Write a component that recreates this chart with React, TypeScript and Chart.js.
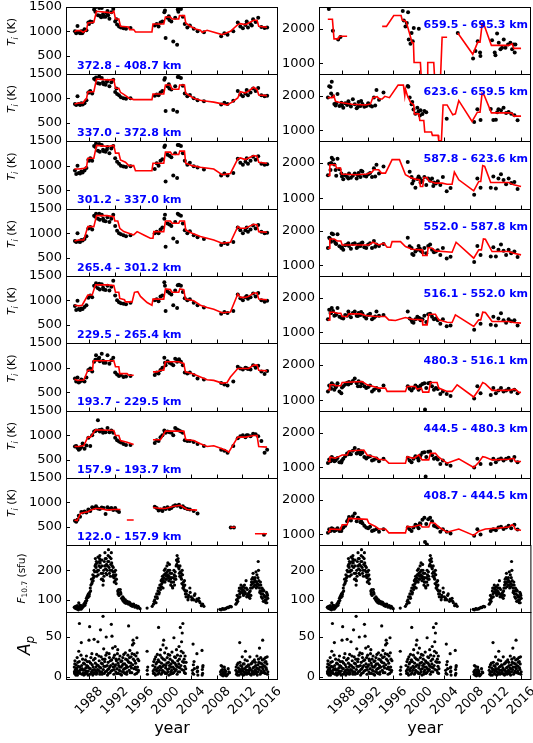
import React, { useEffect, useRef } from "react";
import { Chart, registerables } from "chart.js";
Chart.register(...registerables);

// ---------------- data ----------------
const TICK_YEARS = [1988, 1992, 1996, 2000, 2004, 2008, 2012, 2016];
const TI_LEFT_TICKS = [500, 1000, 1500];
const TI_RIGHT_TICKS = [1000, 2000];
const F107_TICKS = [100, 200];
const AP_TICKS = [0, 50];

const LEFT_LABELS = ["372.8 - 408.7 km", "337.0 - 372.8 km", "301.2 - 337.0 km", "265.4 - 301.2 km",
  "229.5 - 265.4 km", "193.7 - 229.5 km", "157.9 - 193.7 km", "122.0 - 157.9 km"];
const RIGHT_LABELS = ["659.5 - 695.3 km", "623.6 - 659.5 km", "587.8 - 623.6 km", "552.0 - 587.8 km",
  "516.1 - 552.0 km", "480.3 - 516.1 km", "444.5 - 480.3 km", "408.7 - 444.5 km"];

// observation epochs shared by the Ti panels
const EPOCHS = [1985.8, 1986.0, 1986.2, 1986.4, 1986.6, 1986.8, 1987.0, 1987.3, 1987.6, 1987.9,
  1988.2, 1988.5, 1988.8, 1989.1, 1989.4, 1989.7, 1990.0, 1990.3, 1990.6, 1990.9,
  1991.2, 1991.5, 1991.8, 1992.1, 1992.4, 1992.7, 1993.0, 1993.4, 1993.8, 1994.5,
  1998.3, 1998.6, 1998.9, 1999.2, 1999.5, 1999.8, 2000.0, 2000.3, 2000.6, 2000.9,
  2001.2, 2001.5, 2001.8, 2002.1, 2002.4, 2002.7, 2003.0, 2003.4, 2003.8, 2004.4,
  2005.0, 2006.0, 2008.7, 2009.2, 2009.7, 2010.6, 2011.3, 2011.7, 2012.1, 2012.5,
  2012.9, 2013.3, 2013.7, 2014.1, 2014.5, 2015.0, 2015.5, 2015.9];

// ---- left column (122 - 408.7 km) ----
const L0_DOTS = [1000, 960, 1110, 980, 960, 1000, 970, 1040, 1020, 1180,
  1200, 1190, 1450, 1500, 1330, 1320, 1480, 1300, 1300, 1420,
  1260, 1390, 1460, 1200, 1140, 1100, 1080, 1060, 1050, 1070,
  1120, 1150, 1100, 1180, 1200, 1390, 860, 1280, 1230, 1200,
  790, 1280, 720, 1470, 1460, 1300, 1150, 1080, 1120, 1050,
  1000, 980, 900, 960, 930, 1000, 1180, 1100, 1060, 1130,
  1080, 1150, 1250, 1190, 1280, 1090, 1070, 1080];
const L0_EXTRA = [1989.0, 1400, 1989.6, 1480, 1990.2, 1350, 1990.8, 1370, 1991.0, 1330, 1999.9, 1430, 2001.9, 1450,
  2002.0, 1400, 1992.3, 1250, 1988.0, 1150, 1986.9, 960, 2012.7, 1200, 2013.5, 1120, 1987.1, 1000, 1989.9, 1290, 2000.5, 1310];
const L0_FIT = [1985.73, 986, 1986.04, 1014, 1986.67, 1014, 1987.09, 980, 1987.61, 1020, 1987.82, 1171, 1988.76, 1185,
  1989.18, 1411, 1990.84, 1390, 1991.6, 1377, 1991.89, 1411, 1992.15, 1253, 1992.67, 1253, 1992.93, 1103, 1994.2, 1089,
  1994.36, 1034, 1995.0, 1034, 1995.28, 986, 1997.86, 986, 1998.02, 1151, 1999.71, 1151, 1999.97, 1295, 2000.75, 1295,
  2001.0, 1253, 2002.06, 1253, 2002.17, 1322, 2002.95, 1322, 2003.15, 1171, 2003.88, 1103, 2004.67, 1048, 2005.45, 1020,
  2005.71, 980, 2006.5, 1020, 2008.84, 931, 2010.15, 1000, 2011.3, 1137, 2011.71, 1157, 2012.49, 1137, 2013.0, 1171,
  2013.8, 1226, 2014.32, 1226, 2014.58, 1103, 2015.88, 1082];

const L1_DOTS = [880, 860, 1040, 880, 860, 900, 870, 900, 960, 1120,
  1150, 1100, 1400, 1430, 1310, 1300, 1420, 1290, 1280, 1360,
  1250, 1330, 1380, 1130, 1090, 1060, 1020, 1000, 990, 1000,
  1050, 1080, 1060, 1120, 1150, 1380, 740, 1250, 1200, 1180,
  760, 1250, 720, 1440, 1420, 1260, 1100, 1040, 1070, 1000,
  960, 940, 870, 910, 880, 950, 1150, 1080, 1040, 1100,
  1060, 1120, 1200, 1150, 1210, 1060, 1040, 1050];
const L1_EXTRA = [1989.0, 1380, 1989.6, 1450, 1990.2, 1330, 1990.8, 1340, 1999.9, 1420, 2001.9, 1440, 1992.3, 1200,
  1988.0, 1120, 2012.7, 1170, 1987.1, 890, 2000.5, 1290];
const L1_FIT = [1985.73, 884, 1986.41, 904, 1987.09, 904, 1987.3, 952, 1987.61, 990, 1987.82, 1130, 1988.76, 1137,
  1989.18, 1397, 1990.84, 1380, 1991.89, 1383, 1992.15, 1205, 1992.67, 1205, 1992.93, 1123, 1993.45, 1080, 1994.23, 1007,
  1995.0, 973, 1997.86, 973, 1998.02, 1089, 1999.71, 1089, 1999.97, 1274, 2000.75, 1274, 2001.0, 1185, 2002.06, 1185,
  2002.2, 1274, 2002.95, 1274, 2003.15, 1103, 2004.4, 1000, 2005.45, 960, 2006.5, 940, 2007.54, 920, 2008.84, 884,
  2009.63, 863, 2010.41, 920, 2011.3, 1007, 2011.71, 1137, 2012.49, 1110, 2013.0, 1150, 2013.8, 1226, 2014.32, 1180,
  2014.58, 1068, 2015.88, 1055];

const L2_DOTS = [900, 830, 1000, 850, 840, 880, 860, 900, 950, 1120,
  1150, 1100, 1400, 1450, 1300, 1280, 1420, 1290, 1280, 1380,
  1250, 1350, 1400, 1150, 1080, 1040, 1000, 980, 970, 990,
  930, 1050, 1000, 1100, 1130, 1380, 680, 1220, 1200, 1170,
  800, 1250, 750, 1420, 1400, 1250, 1100, 1020, 1060, 990,
  960, 920, 800, 840, 800, 850, 1140, 1060, 1020, 1080,
  1040, 1100, 1180, 1120, 1190, 1040, 1020, 1030];
const L2_EXTRA = [1989.0, 1380, 1989.6, 1440, 1990.2, 1320, 1990.8, 1330, 1999.9, 1410, 2001.9, 1420, 1988.0, 1100, 2012.7, 1150];
const L2_FIT = [1985.73, 931, 1986.41, 931, 1987.19, 945, 1987.61, 966, 1987.82, 1151, 1988.76, 1151, 1989.18, 1411,
  1990.84, 1390, 1991.89, 1411, 1992.15, 1253, 1992.67, 1253, 1992.93, 1116, 1993.71, 1068, 1994.23, 1000, 1995.0, 1000,
  1995.28, 897, 1997.86, 897, 1998.02, 1048, 1999.71, 1048, 1999.97, 1274, 2000.75, 1274, 2001.0, 1226, 2002.06, 1226,
  2002.22, 1295, 2002.95, 1295, 2003.15, 1048, 2004.15, 1000, 2005.45, 966, 2007.54, 931, 2008.84, 815, 2010.15, 842,
  2011.3, 1137, 2011.71, 1157, 2012.49, 1123, 2013.0, 1157, 2013.8, 1205, 2014.32, 1190, 2014.58, 1068, 2015.88, 1048];

const L3_DOTS = [840, 820, 1000, 830, 820, 860, 850, 880, 940, 1100,
  1130, 1080, 1360, 1400, 1300, 1280, 1380, 1260, 1250, 1330,
  1230, 1300, 1380, 1150, 1050, 1000, 980, 960, 940, 960,
  1000, 1030, 1000, 1080, 1120, 1300, 720, 1200, 1180, 1150,
  890, 1230, 820, 1380, 1360, 1200, 1060, 1000, 1040, 960,
  920, 880, 760, 800, 780, 820, 1120, 1060, 1000, 1060,
  1030, 1080, 1160, 1100, 1170, 1030, 1000, 1010];
const L3_EXTRA = [1989.0, 1340, 1989.6, 1400, 1990.2, 1300, 1999.9, 1380, 2001.9, 1400, 2012.7, 1120];
const L3_FIT = [1985.73, 842, 1986.41, 863, 1987.19, 863, 1987.82, 1137, 1988.76, 1137, 1989.18, 1363, 1990.84, 1363,
  1991.89, 1342, 1992.04, 1253, 1992.51, 1253, 1992.82, 1103, 1993.45, 1034, 1994.23, 1000, 1995.0, 966, 1995.54, 1034,
  1996.58, 966, 1997.6, 897, 1998.02, 897, 1998.15, 1034, 1999.71, 1034, 1999.97, 1253, 2000.75, 1253, 2001.0, 1205,
  2002.06, 1205, 2002.22, 1253, 2002.95, 1253, 2003.15, 1068, 2004.15, 1000, 2005.45, 932, 2006.5, 897, 2007.54, 863,
  2008.84, 794, 2010.15, 815, 2011.3, 1137, 2011.71, 1103, 2012.49, 1103, 2013.0, 1137, 2013.8, 1185, 2014.32, 1170,
  2014.58, 1034, 2015.88, 1020];

const L4_DOTS = [880, 800, 990, 820, 800, 830, 820, 860, 900, 1050,
  1100, 1060, 1300, 1350, 1250, 1220, 1330, 1220, 1210, 1300,
  1200, 1280, 1400, 1100, 1000, 960, 940, 930, 920, 950,
  1000, 1020, 980, 1080, 1100, 1370, 780, 1180, 1150, 1120,
  900, 1200, 840, 1320, 1300, 1170, 1040, 1000, 1020, 950,
  900, 850, 720, 760, 740, 780, 1120, 1040, 1000, 1060,
  1030, 1060, 1140, 1080, 1150, 1000, 970, 990];
const L4_EXTRA = [1989.0, 1290, 1989.6, 1340, 1990.2, 1260, 1999.9, 1300, 2001.9, 1310, 2012.7, 1090];
const L4_FIT = [1985.73, 898, 1986.41, 884, 1986.93, 898, 1987.82, 1108, 1988.5, 1108, 1989.02, 1318, 1990.84, 1318,
  1991.89, 1304, 1992.15, 1164, 1992.67, 1164, 1992.82, 1038, 1993.56, 1010, 1993.71, 968, 1994.75, 968, 1995.12, 1164,
  1995.64, 1178, 1996.06, 1080, 1997.1, 954, 1997.86, 898, 1998.02, 1024, 1999.71, 1024, 1999.97, 1234, 2000.75, 1220,
  2001.0, 1164, 2002.06, 1164, 2002.22, 1234, 2002.84, 1220, 2003.1, 1024, 2004.4, 989, 2005.45, 898, 2006.5, 849,
  2007.54, 814, 2008.84, 744, 2010.15, 758, 2011.3, 1129, 2011.71, 1059, 2012.49, 1059, 2013.0, 1080, 2013.8, 1150,
  2014.32, 1150, 2014.58, 1024, 2015.88, 1010];

const L5_DOTS = [780, 720, 800, 700, 720, 760, 740, 720, 800, 950,
  980, 920, 1120, 1250, 1170, 1130, 1280, 1100, 1100, 1250,
  1080, 1150, 1200, 900, 860, 830, 850, 810, 820, 830,
  850, 900, 880, 950, 1000, 1200, 1050, 1130, 1100, 1080,
  1050, 1180, 1120, 1170, 1120, 1050, 900, 880, 900, 850,
  780, 760, 690, 660, 640, 720, 1020, 980, 960, 1000,
  970, 960, 1050, 1000, 1040, 920, 870, 930];
const L5_EXTRA = [1989.0, 1160, 1989.6, 1200, 1990.2, 1140, 1999.9, 1100, 2001.9, 1150, 2012.7, 990];
const L5_FIT = [1985.73, 762, 1986.2, 741, 1987.19, 748, 1987.82, 948, 1988.55, 948, 1988.7, 1141, 1991.89, 1141,
  1992.15, 1017, 1992.67, 1017, 1992.82, 879, 1993.97, 879, 1994.23, 845, 1995.0, 845, 1996.5, null,
  1998.02, 914, 1998.66, 914, 1999.2, 948, 1999.71, 948, 1999.97, 1120, 2002.06, 1120, 2002.84, 1086, 2003.1, 914,
  2004.15, 879, 2005.45, 810, 2006.5, 755, 2007.54, 741, 2008.84, 686, 2009.63, 700, 2010.15, 810, 2011.3, 983,
  2013.0, 983, 2013.8, 1052, 2014.32, 1052, 2014.58, 948, 2015.88, 934];

const L6_DOTS = [770, 780, 740, 700, 720, 760, 830, 720, 790, 950,
  780, 1000, 1080, 1100, 1310, 1080, 1120, 1080, 1060, 1150,
  1060, 1100, 1050, 950, 900, 870, 850, 820, 800, 800,
  840, 900, 880, 960, 1000, 1100, 1050, 1080, 1060, 1050,
  1000, 1150, 1120, 1100, 1080, 1050, 900, 880, 880, 860,
  820, 780, 700, 680, 640, 780, 940, 980, 1000, 960,
  1000, 980, 1030, 1020, 980, 880, 640, 700];
const L6_EXTRA = [1989.0, 1090, 1989.6, 1110, 1990.2, 1050, 1999.9, 1060, 2012.7, 1000];
const L6_FIT = [1985.73, 769, 1986.41, 769, 1987.19, 789, 1987.82, 962, 1988.24, 962, 1989.02, 1114, 1991.89, 1100,
  1992.15, 996, 1992.67, 996, 1992.93, 893, 1993.97, 858, 1995.0, 810, 1996.5, null,
  1998.02, 907, 1999.19, 907, 1999.97, 1086, 2002.84, 1086, 2003.15, 914, 2004.4, 893, 2005.45, 824, 2006.5, 769,
  2007.54, 783, 2008.84, 720, 2009.5, 686, 2009.89, 651, 2011.3, 962, 2012.49, 962, 2013.0, 976, 2013.8, 996,
  2014.32, 996, 2014.58, 769, 2015.88, 755];

const L7_DOTS = [620, 600, 640, 720, 700, 800, 790, 810, 790, 850,
  820, 900, 880, 920, 870, 860, 890, 880, 760, 900,
  860, 880, 840, 880, 830, 800, null, null, null, null,
  910, 880, 830, 850, 820, 880, 860, 900, 860, 880,
  920, 940, 930, 950, 900, 920, 880, 860, 850, 820,
  770, null, null, null, null, null, null, null, null, null,
  null, null, null, null, null, null, null, null];
const L7_EXTRA = [2010.2, 480, 2010.7, 480, 2015.4, 330];
const L7_FIT = [1985.73, 635, 1986.15, 622, 1986.67, 770, 1987.19, 790, 1987.82, 804, 1988.24, 838, 1989.02, 871,
  1989.8, 871, 1990.84, 838, 1991.89, 851, 1992.93, 851, 1993.4, null, 1993.93, 635, 1995.0, 635, 1996.5, null,
  1998.02, 892, 1999.19, 871, 1999.97, 871, 2001.28, 919, 2002.32, 939, 2003.36, 851, 2004.93, 838, 2007.0, null,
  2010.15, 486, 2010.93, 486, 2012.0, null, 2013.99, 351, 2015.88, 351];

// ---- right column (408.7 - 695.3 km) ----
const R0_DOTS = null;
const R0_EXTRA = [1985.94, 2566, 1986.57, 1943, 1987.4, 1689, 1987.77, 1764, 1997.52, 2509, 1998.35, 2471, 1997.68, 2236,
  1997.94, 2066, 1998.15, 2160, 1998.46, 1689, 1998.9, 1877, 1999.08, 1642, 1998.72, 1566, 1999.24, 2019, 2000.03, 2000,
  2006.13, 1877, 2008.53, 1142, 2008.9, 1359, 2009.26, 1642, 2009.62, 1312, 2009.68, 1217, 2010.04, 2113, 2011.5, 1670,
  2011.92, 1312, 2012.03, 1236, 2012.29, 1858, 2012.55, 1594, 2012.81, 1406, 2013.07, 1453, 2013.33, 1689, 2013.6, 1453,
  2014.0, 1547, 2014.37, 1594, 2014.64, 1406, 2014.9, 1547, 2015.05, 1312, 2015.16, 1547];
const R0_FIT = [1985.78, 2273, 1986.5, 2273, 1986.75, 1708, 1987.4, 1708, 1987.6, 1783, 1988.8, 1783, 1991.0, null,
  1994.29, 2066, 1994.96, 2066, 1996.11, 2377, 1997.26, 2377, 1997.42, 2255, 1998.04, 2207, 1998.56, 1877, 1998.98, 1594,
  1999.19, 1594, 1999.29, 1028, 2000.28, 1028, 2000.44, 500, 2001.33, 500, 2001.43, 1028, 2002.37, 1028, 2002.53, 500,
  2003.41, 500, 2003.68, 1755, 2004.46, 1755, 2005.3, null, 2006.13, 1877, 2008.48, 1264, 2009.26, 1613, 2009.62, 1613,
  2009.94, 2132, 2010.3, 2085, 2011.4, 1519, 2014.11, 1519, 2014.64, 1566, 2014.9, 1434, 2016.04, 1434];

const R1_DOTS = [1950, 2270, 2250, 2400, 1980, 1760, 1720, 2050, 1700, 1800,
  1650, 1780, 1730, 1760, 1690, 1900, 1750, 1640, 1820, 1700,
  1760, 1680, 1700, 1780, 1720, 1690, 1950, 2160, 1880, 2090,
  2280, 1950, 1750, 1600, 1480, 1650, 1550, 1580, 1470, 1560,
  1520, null, null, null, null, null, null, null, null, 1340,
  null, null, 1240, 1610, 1300, null, 1620, 1300, 1310, 1610,
  1580, 1650, 1500, 1530, 1480, 1440, 1290, null];
const R1_EXTRA = [1986.3, 2060, 1987.1, 1780, 1988.0, 1720, 1989.0, 1840, 1990.5, 1680, 1991.0, 1850, 1993.2, 1720,
  1998.4, 2260, 1999.0, 1820, 2000.2, 1430, 2012.3, 1520];
const R1_FIT = [1985.78, 1943, 1986.46, 1943, 1986.72, 2000, 1986.98, 1838, 1987.5, 1810, 1989.6, 1753, 1991.68, 1734,
  1992.46, 1763, 1992.83, 1943, 1993.5, 1972, 1993.87, 1905, 1994.29, 1905, 1994.7, 1981, 1995.43, 1943, 1996.79, 2304,
  1997.62, 2304, 1997.83, 2000, 1997.94, 2190, 1998.25, 2000, 1998.72, 1810, 1999.24, 1734, 1999.35, 1477, 2000.03, 1477,
  2000.19, 1287, 2000.81, 1287, 2000.96, 955, 2002.01, 955, 2002.16, 860, 2003.05, 860, 2003.15, 700, 2003.57, 700,
  2003.83, 1734, 2004.46, 1734, 2005.35, 1449, 2005.76, 1477, 2006.29, 1857, 2008.37, 1259, 2009.2, 1525, 2009.62, 1525,
  2009.94, 2066, 2010.25, 2019, 2011.4, 1506, 2014.11, 1506, 2014.64, 1496, 2014.9, 1411, 2016.04, 1411];

const R2_DOTS = [1650, 1980, 1800, 2150, 2100, 1960, 1800, 2120, 1820, 1700,
  1540, 1650, 1600, 1700, 1580, 1640, 1700, 1560, 1720, 1600,
  1760, 1640, 1620, 1680, 1720, 1600, 1850, 1950, 1700, 1900,
  2030, 1750, 1600, 1500, 1300, 1550, 1620, 1450, 1500, 1600,
  1380, 1560, 1500, 1560, 1450, 1420, 1480, 1380, 1600, 1200,
  1290, null, 1100, 1560, 1300, null, 1300, 1620, 1280, 1560,
  1680, 1520, 1400, 1560, 1430, 1460, 1260, null];
const R2_EXTRA = [1986.3, 2000, 1987.1, 1640, 1988.0, 1620, 1989.0, 1560, 1990.5, 1650, 1991.0, 1780, 1993.2, 1620,
  1999.0, 1420, 2000.2, 1560, 2002.3, 1350];
const R2_FIT = [1985.78, 1648, 1985.99, 1648, 1986.1, 1952, 1986.98, 1952, 1987.14, 1857, 1987.77, 1857, 1987.92, 1686,
  1990.1, 1667, 1991.94, 1686, 1992.72, 1743, 1992.98, 1810, 1993.76, 1810, 1994.18, 1714, 1994.81, 1714, 1995.85, 2095,
  1997.0, 2095, 1997.94, 1667, 1998.72, 1591, 1999.5, 1543, 2000.13, 1524, 2000.28, 1333, 2000.65, 1333, 2000.81, 1591,
  2001.33, 1591, 2001.59, 1495, 2002.63, 1429, 2003.68, 1429, 2004.46, 1400, 2005.24, 1400, 2005.6, 1743, 2006.29, 1524,
  2008.63, 1210, 2009.42, 1476, 2009.73, 1476, 2010.04, 1924, 2010.35, 1905, 2011.29, 1448, 2014.11, 1448, 2014.9, 1381,
  2016.04, 1333];

const R3_DOTS = [1500, 1800, 1750, 1920, 1900, 1700, 1640, 1900, 1550, 1500,
  1450, 1580, 1600, 1560, 1480, 1620, 1640, 1500, 1600, 1560,
  1660, 1520, 1500, 1600, 1640, 1500, 1700, 1600, 1560, 1620,
  1800, 1550, 1500, 1300, 1400, 1450, 1560, 1420, 1380, 1500,
  1350, 1560, 1600, 1450, 1380, 1400, 1440, 1300, 1500, 1200,
  1250, null, 1100, 1560, 1300, null, 1260, 1520, 1260, 1450,
  1600, 1420, 1300, 1450, 1350, 1400, 1240, null];
const R3_EXTRA = [1986.3, 1680, 1987.1, 1620, 1988.0, 1520, 1989.0, 1640, 1990.5, 1540, 1991.0, 1640, 1993.2, 1540,
  1999.0, 1330, 2000.2, 1480];
const R3_FIT = [1985.78, 1495, 1985.99, 1495, 1986.1, 1762, 1986.77, 1762, 1987.24, 1705, 1987.82, 1705, 1988.03, 1590,
  1992.2, 1590, 1992.83, 1667, 1993.76, 1590, 1994.55, 1638, 1995.07, 1524, 1995.59, 1524, 1995.85, 1686, 1997.16, 1686,
  1997.94, 1543, 1998.98, 1467, 2000.55, 1448, 2000.65, 1286, 2001.33, 1286, 2001.49, 1514, 2002.11, 1495, 2002.63, 1419,
  2005.24, 1381, 2005.87, 1667, 2008.63, 1210, 2009.42, 1448, 2009.83, 1448, 2010.15, 1762, 2010.46, 1752, 2011.5, 1400,
  2014.11, 1400, 2014.9, 1352, 2016.04, 1305];

const R4_DOTS = [1380, 1650, 1560, 1700, 1620, 1480, 1500, 1700, 1450, 1420,
  1400, 1500, 1480, 1520, 1440, 1560, 1600, 1480, 1560, 1500,
  1540, 1460, 1400, 1500, 1540, 1380, 1420, 1600, 1480, 1500,
  1600, 1400, 1350, 1280, 1380, 1450, 1420, 1350, 1380, 1480,
  1300, 1520, 1540, 1450, 1380, 1400, 1350, 1250, 1380, 1180,
  1200, null, 1080, 1500, 1250, null, 1220, 1450, 1200, 1400,
  1550, 1350, 1280, 1380, 1320, 1350, 1200, null];
const R4_EXTRA = [1986.3, 1560, 1987.1, 1520, 1988.0, 1430, 1989.0, 1600, 1990.5, 1470, 1991.0, 1590, 1993.2, 1460,
  1999.0, 1300, 2000.2, 1400];
const R4_FIT = [1985.78, 1362, 1985.99, 1362, 1986.1, 1581, 1986.77, 1581, 1987.24, 1552, 1987.82, 1552, 1988.03, 1457,
  1988.81, 1457, 1989.07, 1533, 1990.9, 1533, 1991.68, 1486, 1993.24, 1457, 1994.81, 1457, 1995.33, 1362, 1996.37, 1343,
  1997.94, 1429, 1998.98, 1381, 2000.55, 1362, 2000.65, 1219, 2001.33, 1219, 2001.59, 1524, 2002.63, 1524, 2003.15, 1362,
  2004.46, 1295, 2005.24, 1286, 2005.76, 1505, 2008.63, 1172, 2009.42, 1362, 2009.73, 1362, 2010.04, 1581, 2010.46, 1572,
  2011.5, 1314, 2014.11, 1314, 2014.9, 1286, 2016.04, 1267];

const R5_DOTS = [1250, 1420, 1350, 1480, 1440, 1300, 1360, 1480, 1250, 1200,
  1400, 1450, 1500, 1520, 1480, 1550, 1620, 1480, 1540, 1400,
  1480, 1400, 1350, 1380, 1420, 1250, 1300, 1350, 1280, 1420,
  1400, 1330, 1280, 1350, 1420, 1380, 1300, 1420, 1460, 1480,
  1350, 1480, 1500, 1400, 1300, 1350, 1320, 1180, 1250, 1180,
  1120, null, 1050, 1400, 1200, null, 1150, 1350, 1200, 1280,
  1350, 1250, 1280, 1330, 1240, 1300, 1200, null];
const R5_EXTRA = [2001.0, 738, 1986.3, 1330, 1987.1, 1400, 1988.0, 1360, 1989.0, 1450, 1990.5, 1400, 1991.0, 1500, 2000.2, 1350];
const R5_FIT = [1985.78, 1299, 1985.99, 1299, 1986.1, 1439, 1986.77, 1439, 1986.98, 1411, 1987.82, 1411, 1988.03, 1505,
  1991.16, 1533, 1991.94, 1439, 1993.76, 1346, 1994.81, 1346, 1995.07, 1252, 1997.94, 1252, 1998.2, 1392, 1999.5, 1392,
  1999.76, 1317, 2000.44, 1346, 2000.65, 1233, 2001.59, 1233, 2001.85, 1505, 2002.89, 1505, 2003.15, 1346, 2004.46, 1252,
  2005.24, 1252, 2006.03, 1439, 2008.63, 1093, 2009.42, 1299, 2010.04, 1505, 2010.46, 1467, 2011.5, 1280, 2014.11, 1280,
  2014.9, 1317, 2015.26, 1299, 2015.68, 1224, 2016.04, 1224];

const R6_DOTS = [1130, 1230, 1180, 1300, 1260, 1180, 1200, 1270, 1150, 1140,
  1250, 1320, 1400, 1440, 1380, 1480, 1560, 1400, 1500, 1380,
  1420, 1300, 1260, 1300, 1320, 1200, 1220, 1260, 1180, 1250,
  1280, 1200, 1150, 1250, 1320, 1280, 1200, 1350, 1420, 1440,
  1300, 1450, 1460, 1350, 1250, 1280, 1230, 1100, 1200, 1100,
  1050, null, 1000, 1250, 1100, null, 1100, 1250, 1150, 1230,
  1260, 1200, 1250, 1280, 1200, 1300, 1150, null];
const R6_EXTRA = [2001.1, 740, 1986.3, 1200, 1987.1, 1240, 1988.0, 1200, 1989.0, 1380, 1990.5, 1430, 1991.0, 1460, 2000.2, 1300];
const R6_FIT = [1985.78, 1170, 1985.99, 1170, 1986.1, 1293, 1986.98, 1264, 1987.5, 1312, 1988.03, 1359, 1988.81, 1359,
  1989.07, 1472, 1991.42, 1500, 1991.94, 1359, 1993.24, 1293, 1993.76, 1236, 1994.81, 1217, 1995.33, 1123, 1997.94, 1123,
  1998.2, 1312, 1999.24, 1264, 2000.03, 1359, 2000.55, 1217, 2001.59, 1217, 2001.85, 1406, 2002.63, 1406, 2003.15, 1293,
  2004.46, 1123, 2006.29, 1246, 2008.63, 1000, 2009.42, 1151, 2010.04, 1312, 2010.46, 1293, 2011.5, 1217, 2014.11, 1236,
  2014.9, 1264, 2015.16, 1170, 2016.04, 1170];

const R7_DOTS = [1050, 1150, 1100, 1180, 1160, 1100, 1120, 1180, 1100, 1100,
  1200, 1250, 1380, 1500, 1400, 1520, 1600, 1380, 1460, 1350,
  1320, 1250, 1200, 1180, 1220, 1100, 1120, 1160, 1080, 1150,
  1200, 1150, 1100, 1200, 1280, 1240, 1180, 1300, 1420, 1480,
  1300, 1440, 1480, 1380, 1250, 1230, 1200, 1080, 1150, 1080,
  1030, null, 960, 1150, 1000, null, 1100, 1150, 1120, 1200,
  1220, 1160, 1200, 1250, 1180, 1280, 1140, null];
const R7_EXTRA = [2001.0, 780, 2001.3, 710, 1986.3, 1120, 1987.1, 1140, 1988.0, 1180, 1989.0, 1430, 1990.5, 1480,
  1991.0, 1380, 2000.2, 1320];
const R7_FIT = [1985.78, 1065, 1985.99, 1083, 1986.1, 1157, 1987.77, 1139, 1988.03, 1278, 1988.81, 1278, 1989.07, 1463,
  1991.94, 1435, 1992.2, 1324, 1993.24, 1231, 1993.76, 1157, 1994.81, 1157, 1995.33, 1046, 1997.94, 1046, 1998.2, 1231,
  1998.98, 1213, 2000.28, 1278, 2000.55, 1213, 2001.59, 1213, 2001.85, 1342, 2002.53, 1324, 2003.15, 1213, 2004.46, 1065,
  2006.29, 1157, 2008.63, 972, 2009.42, 1093, 2010.46, 1157, 2012.55, 1185, 2014.11, 1213, 2014.64, 1278, 2014.9, 1250,
  2015.16, 1139, 2016.04, 1120];

// ---- solar / geomagnetic indices (year, value pairs) ----
const F107_DATA = [1985.7, 75, 1985.8, 72, 1985.9, 78, 1986.0, 70, 1986.1, 74, 1986.2, 68, 1986.3, 72, 1986.4, 90,
  1986.5, 76, 1986.6, 70, 1986.7, 73, 1986.8, 80, 1986.9, 72, 1987.0, 75, 1987.1, 78, 1987.2, 85, 1987.3, 88, 1987.4, 82,
  1987.5, 90, 1987.6, 105, 1987.7, 110, 1987.8, 115, 1987.9, 120, 1988.0, 112, 1988.1, 125, 1988.2, 140, 1988.3, 150,
  1988.4, 170, 1988.5, 160, 1988.6, 185, 1988.7, 175, 1988.8, 200, 1988.9, 195, 1989.0, 240, 1989.05, 220, 1989.1, 210,
  1989.2, 180, 1989.3, 225, 1989.35, 200, 1989.4, 245, 1989.5, 200, 1989.55, 215, 1989.6, 230, 1989.7, 250, 1989.75, 225,
  1989.8, 210, 1989.9, 190, 1990.0, 215, 1990.05, 235, 1990.1, 170, 1990.2, 150, 1990.3, 200, 1990.35, 180, 1990.4, 230,
  1990.5, 260, 1990.55, 240, 1990.6, 205, 1990.7, 240, 1990.75, 220, 1990.8, 185, 1990.9, 215, 1991.0, 250, 1991.05, 270,
  1991.1, 230, 1991.2, 190, 1991.3, 200, 1991.4, 220, 1991.5, 260, 1991.6, 200, 1991.7, 180, 1991.8, 210, 1991.9, 175,
  1992.0, 195, 1992.1, 165, 1992.2, 185, 1992.3, 170, 1992.5, 130, 1992.6, 125, 1992.7, 115, 1992.9, 135, 1993.0, 120,
  1993.1, 105, 1993.3, 110, 1993.4, 95, 1993.6, 90, 1993.7, 100, 1993.8, 88, 1994.0, 95, 1994.2, 85, 1994.4, 90,
  1994.6, 80, 1994.8, 78, 1995.0, 85, 1995.2, 75, 1995.4, 80, 1995.6, 72, 1995.8, 74, 1996.0, 70,
  1997.1, 72, 1997.9, 78, 1998.1, 85, 1998.2, 95, 1998.3, 100, 1998.4, 110, 1998.5, 90, 1998.6, 120, 1998.7, 105,
  1998.8, 130, 1998.9, 140, 1999.0, 125, 1999.1, 150, 1999.2, 135, 1999.3, 165, 1999.4, 155, 1999.5, 180, 1999.6, 140,
  1999.7, 175, 1999.8, 200, 1999.85, 185, 1999.9, 160, 2000.0, 190, 2000.05, 170, 2000.1, 170, 2000.2, 215, 2000.25, 195,
  2000.3, 185, 2000.4, 200, 2000.5, 165, 2000.55, 180, 2000.6, 220, 2000.7, 190, 2000.8, 150, 2000.9, 175, 2001.0, 160,
  2001.1, 140, 2001.2, 175, 2001.3, 200, 2001.4, 150, 2001.5, 195, 2001.6, 170, 2001.7, 235, 2001.75, 220, 2001.8, 250,
  2001.85, 230, 2001.9, 215, 2002.0, 230, 2002.05, 210, 2002.1, 205, 2002.2, 180, 2002.3, 195, 2002.4, 175, 2002.5, 170,
  2002.6, 200, 2002.7, 140, 2002.8, 160, 2002.9, 135, 2003.0, 150, 2003.1, 120, 2003.2, 110, 2003.3, 130, 2003.5, 100,
  2003.6, 115, 2003.8, 140, 2004.0, 110, 2004.2, 105, 2004.4, 100, 2004.6, 120, 2004.8, 95, 2005.0, 100, 2005.2, 105,
  2005.4, 90, 2005.6, 80, 2005.8, 85, 2006.0, 78,
  2008.5, 68, 2008.7, 66, 2008.9, 70, 2009.1, 68, 2009.3, 69, 2009.5, 72, 2009.7, 74, 2009.9, 75, 2010.1, 78, 2010.3, 76,
  2011.0, 85, 2011.1, 100, 2011.2, 115, 2011.3, 95, 2011.4, 110, 2011.5, 130, 2011.6, 120, 2011.7, 140, 2011.8, 150,
  2011.9, 135, 2012.0, 125, 2012.1, 145, 2012.2, 115, 2012.3, 130, 2012.4, 140, 2012.5, 120, 2012.6, 165, 2012.7, 110,
  2012.8, 135, 2012.9, 120, 2013.0, 110, 2013.1, 125, 2013.2, 105, 2013.3, 140, 2013.4, 150, 2013.5, 170, 2013.6, 155,
  2013.7, 190, 2013.8, 145, 2013.9, 160, 2014.0, 175, 2014.1, 150, 2014.2, 140, 2014.3, 185, 2014.4, 155, 2014.5, 230,
  2014.55, 200, 2014.6, 165, 2014.7, 140, 2014.8, 130, 2014.9, 150, 2015.0, 110, 2015.1, 140, 2015.2, 120, 2015.3, 95,
  2015.4, 130, 2015.5, 110, 2015.6, 100, 2015.7, 90, 2015.8, 125, 2015.9, 120, 2016.0, 105];
const F107_MORE = [1986.15, 80, 1986.35, 66, 1986.55, 82, 1986.75, 68, 1986.95, 77, 1987.25, 80, 1987.45, 95, 1987.65, 98,
  1987.85, 108, 1988.05, 118, 1988.25, 130, 1988.45, 155, 1988.65, 165, 1988.85, 180, 1988.95, 215, 1989.15, 230,
  1989.25, 195, 1989.45, 185, 1989.65, 240, 1989.85, 235, 1989.95, 170, 1990.15, 190, 1990.25, 165, 1990.45, 215,
  1990.65, 190, 1990.85, 200, 1990.95, 230, 1991.15, 210, 1991.25, 245, 1991.35, 180, 1991.45, 240, 1991.55, 225,
  1991.65, 215, 1991.75, 195, 1991.85, 185, 1991.95, 160, 1992.05, 180, 1992.15, 200, 1992.25, 155, 1992.55, 120,
  1992.65, 135, 1992.95, 125, 1993.25, 100, 1993.45, 105, 1993.75, 92, 1994.1, 88, 1994.3, 92, 1994.5, 82, 1994.7, 85,
  1995.1, 80, 1995.5, 76, 1995.7, 78,
  1998.35, 92, 1998.65, 110, 1998.95, 120, 1999.15, 140, 1999.35, 145, 1999.45, 170, 1999.55, 160, 1999.65, 165,
  1999.75, 185, 1999.95, 205, 2000.15, 180, 2000.35, 225, 2000.45, 175, 2000.65, 200, 2000.75, 170, 2000.85, 160,
  2000.95, 190, 2001.05, 145, 2001.25, 160, 2001.35, 185, 2001.45, 170, 2001.55, 180, 2001.65, 215, 2001.95, 240,
  2002.15, 190, 2002.25, 215, 2002.35, 180, 2002.45, 190, 2002.55, 155, 2002.65, 185, 2002.75, 150, 2002.85, 145,
  2002.95, 165, 2003.05, 130, 2003.25, 120, 2003.55, 108, 2003.85, 125, 2004.1, 100, 2004.5, 115, 2004.9, 102,
  2005.3, 95, 2005.7, 84,
  2008.6, 67, 2009.0, 69, 2009.4, 70, 2009.8, 73, 2010.2, 77,
  2011.15, 90, 2011.35, 105, 2011.55, 140, 2011.65, 110, 2011.75, 125, 2011.85, 140, 2012.05, 135, 2012.15, 120,
  2012.35, 150, 2012.45, 125, 2012.65, 140, 2012.85, 115, 2013.05, 118, 2013.25, 130, 2013.35, 115, 2013.45, 160,
  2013.55, 140, 2013.65, 175, 2013.75, 160, 2013.85, 170, 2013.95, 150, 2014.05, 165, 2014.15, 195, 2014.25, 160,
  2014.35, 145, 2014.45, 175, 2014.65, 150, 2014.75, 125, 2014.85, 160, 2014.95, 120, 2015.05, 130, 2015.15, 105,
  2015.25, 135, 2015.45, 115, 2015.55, 95, 2015.65, 110, 2015.75, 100, 2015.85, 90, 2015.95, 115];

const AP_DATA = [1985.7, 12, 1985.75, 4, 1985.8, 20, 1985.85, 8, 1985.9, 3, 1986.0, 15, 1986.05, 6, 1986.1, 10,
  1986.2, 2, 1986.25, 18, 1986.3, 7, 1986.4, 32, 1986.45, 5, 1986.5, 67, 1986.55, 12, 1986.6, 4, 1986.7, 9, 1986.8, 43,
  1986.85, 14, 1986.9, 3, 1987.0, 22, 1987.1, 8, 1987.2, 2, 1987.3, 16, 1987.4, 5, 1987.5, 11, 1987.6, 26, 1987.7, 4,
  1987.8, 13, 1987.9, 7, 1988.0, 46, 1988.05, 19, 1988.1, 63, 1988.15, 3, 1988.2, 10, 1988.3, 24, 1988.4, 6, 1988.5, 15,
  1988.6, 2, 1988.7, 21, 1988.8, 47, 1988.85, 9, 1988.9, 4, 1989.0, 17, 1989.1, 12, 1989.2, 28, 1989.3, 5, 1989.4, 44,
  1989.45, 14, 1989.5, 8, 1989.6, 20, 1989.7, 3, 1989.8, 59, 1989.85, 11, 1989.9, 25, 1990.0, 6, 1990.1, 16, 1990.2, 76,
  1990.25, 9, 1990.3, 35, 1990.4, 4, 1990.5, 22, 1990.6, 13, 1990.7, 50, 1990.75, 7, 1990.8, 30, 1990.9, 2, 1991.0, 18,
  1991.1, 10, 1991.2, 24, 1991.3, 5, 1991.4, 14, 1991.5, 66, 1991.55, 21, 1991.6, 51, 1991.65, 8, 1991.7, 36, 1991.8, 12,
  1991.9, 3, 1992.0, 27, 1992.1, 38, 1992.15, 15, 1992.2, 6, 1992.3, 20, 1992.4, 10, 1992.5, 34, 1992.55, 17, 1992.6, 4,
  1992.7, 22, 1992.8, 12, 1992.9, 7, 1993.0, 19, 1993.1, 2, 1993.2, 14, 1993.3, 24, 1993.4, 9, 1993.5, 5, 1993.6, 16,
  1993.7, 30, 1993.8, 11, 1993.9, 3, 1994.0, 21, 1994.1, 27, 1994.2, 64, 1994.25, 18, 1994.3, 8, 1994.4, 33, 1994.5, 13,
  1994.6, 25, 1994.7, 5, 1994.8, 40, 1994.9, 46, 1994.95, 22, 1995.0, 42, 1995.05, 10, 1995.1, 28, 1995.2, 3, 1995.3, 17,
  1995.4, 9, 1995.5, 49, 1995.55, 30, 1995.6, 12, 1995.7, 6, 1995.8, 20,
  1997.1, 32, 1997.12, 8, 1997.15, 3, 1997.2, 12,
  1998.0, 14, 1998.1, 4, 1998.2, 9, 1998.3, 22, 1998.4, 2, 1998.5, 16, 1998.6, 7, 1998.7, 28, 1998.8, 11, 1998.9, 62,
  1998.95, 5, 1999.0, 19, 1999.1, 13, 1999.2, 34, 1999.3, 3, 1999.4, 24, 1999.5, 8, 1999.6, 40, 1999.7, 46, 1999.75, 15,
  1999.8, 6, 1999.9, 21, 2000.0, 11, 2000.1, 36, 2000.15, 4, 2000.2, 17, 2000.3, 9, 2000.4, 28, 2000.5, 2, 2000.6, 14,
  2000.7, 22, 2000.8, 6, 2000.9, 12, 2001.0, 31, 2001.1, 4, 2001.2, 18, 2001.3, 49, 2001.35, 10, 2001.4, 25, 2001.5, 7,
  2001.6, 15, 2001.7, 34, 2001.8, 3, 2001.9, 20, 2002.0, 12, 2002.1, 38, 2002.2, 6, 2002.3, 62, 2002.35, 26, 2002.4, 14,
  2002.5, 44, 2002.55, 9, 2002.6, 55, 2002.65, 19, 2002.7, 67, 2002.75, 30, 2002.8, 8, 2002.9, 22, 2003.0, 13, 2003.1, 4,
  2003.2, 18,
  2004.2, 8, 2004.3, 41, 2004.35, 15, 2004.4, 3, 2004.5, 10, 2004.9, 29, 2004.95, 6, 2005.0, 12, 2005.05, 2, 2005.7, 33,
  2005.75, 9, 2005.8, 4, 2005.85, 14,
  2008.6, 6, 2008.7, 14, 2008.8, 2, 2008.9, 9, 2009.0, 1, 2009.1, 4, 2009.2, 12, 2009.3, 3, 2009.4, 7, 2009.6, 2,
  2009.8, 10, 2010.0, 5,
  2011.0, 8, 2011.1, 3, 2011.2, 15, 2011.3, 6, 2011.4, 11, 2011.5, 2, 2011.6, 43, 2011.65, 18, 2011.7, 9, 2011.8, 4,
  2011.9, 13, 2012.0, 25, 2012.1, 7, 2012.2, 2, 2012.3, 16, 2012.4, 10, 2012.5, 32, 2012.55, 5, 2012.6, 12, 2012.7, 3,
  2012.8, 20, 2012.9, 8, 2013.0, 14, 2013.1, 4, 2013.2, 25, 2013.3, 9, 2013.4, 2, 2013.5, 17, 2013.6, 6, 2013.7, 11,
  2013.8, 3, 2013.9, 21, 2014.0, 8, 2014.1, 14, 2014.2, 4, 2014.3, 26, 2014.4, 10, 2014.5, 6, 2014.6, 18, 2014.7, 36,
  2014.75, 12, 2014.8, 3, 2014.9, 24, 2015.0, 7, 2015.1, 16, 2015.2, 46, 2015.25, 10, 2015.3, 5, 2015.4, 22, 2015.5, 13,
  2015.6, 4, 2015.7, 19, 2015.8, 9, 2015.9, 25, 2016.0, 6];
const AP_MORE = [1985.72, 6, 1985.78, 16, 1985.88, 9, 1985.95, 2, 1986.02, 11, 1986.15, 24, 1986.22, 5, 1986.35, 13,
  1986.48, 19, 1986.62, 8, 1986.75, 27, 1986.92, 10, 1987.05, 4, 1987.15, 17, 1987.25, 9, 1987.35, 3, 1987.45, 21,
  1987.55, 7, 1987.65, 14, 1987.75, 19, 1987.85, 2, 1987.95, 11, 1988.25, 17, 1988.35, 4, 1988.45, 29, 1988.55, 8,
  1988.65, 12, 1988.75, 5, 1988.95, 23, 1989.05, 7, 1989.15, 3, 1989.25, 15, 1989.35, 9, 1989.55, 26, 1989.65, 12,
  1989.75, 6, 1989.95, 17, 1990.05, 3, 1990.15, 22, 1990.35, 13, 1990.45, 19, 1990.55, 6, 1990.65, 27, 1990.85, 14,
  1990.95, 9, 1991.05, 4, 1991.15, 29, 1991.25, 12, 1991.35, 20, 1991.45, 7, 1991.75, 16, 1991.85, 24, 1991.95, 9,
  1992.05, 13, 1992.25, 22, 1992.35, 4, 1992.45, 29, 1992.65, 14, 1992.75, 8, 1992.85, 26, 1992.95, 3, 1993.05, 12,
  1993.15, 20, 1993.25, 6, 1993.35, 16, 1993.45, 28, 1993.55, 10, 1993.65, 4, 1993.75, 22, 1993.85, 14, 1993.95, 6,
  1994.05, 12, 1994.15, 19, 1994.35, 24, 1994.45, 5, 1994.55, 17, 1994.65, 11, 1994.75, 29, 1994.85, 15, 1995.15, 20,
  1995.25, 12, 1995.35, 26, 1995.45, 4, 1995.65, 22, 1995.75, 8,
  1998.05, 7, 1998.15, 19, 1998.25, 4, 1998.35, 12, 1998.45, 25, 1998.55, 9, 1998.65, 18, 1998.75, 3, 1998.85, 21,
  1999.05, 8, 1999.15, 27, 1999.25, 11, 1999.35, 17, 1999.45, 5, 1999.55, 13, 1999.65, 22, 1999.85, 30, 1999.95, 4,
  2000.05, 14, 2000.25, 24, 2000.35, 6, 2000.45, 18, 2000.55, 10, 2000.65, 27, 2000.75, 3, 2000.85, 16, 2000.95, 8,
  2001.05, 20, 2001.15, 12, 2001.25, 5, 2001.45, 17, 2001.55, 24, 2001.65, 9, 2001.75, 13, 2001.85, 27, 2001.95, 6,
  2002.05, 16, 2002.15, 22, 2002.25, 11, 2002.45, 32, 2002.85, 18, 2002.95, 5, 2003.05, 26, 2003.15, 10,
  2004.25, 4, 2004.45, 19, 2004.92, 11, 2005.02, 7, 2005.72, 2, 2005.82, 12,
  2008.65, 3, 2008.75, 8, 2008.85, 13, 2008.95, 4, 2009.05, 6, 2009.15, 2, 2009.25, 9, 2009.35, 5, 2009.5, 1, 2009.7, 3,
  2009.9, 6,
  2011.05, 12, 2011.15, 5, 2011.25, 2, 2011.35, 17, 2011.45, 6, 2011.55, 9, 2011.75, 14, 2011.85, 7, 2011.95, 3,
  2012.05, 10, 2012.15, 16, 2012.25, 6, 2012.35, 3, 2012.45, 21, 2012.65, 8, 2012.75, 13, 2012.85, 4, 2012.95, 15,
  2013.05, 7, 2013.15, 11, 2013.25, 3, 2013.35, 16, 2013.45, 8, 2013.55, 4, 2013.65, 19, 2013.75, 6, 2013.85, 12,
  2013.95, 4, 2014.05, 18, 2014.15, 7, 2014.25, 11, 2014.35, 2, 2014.45, 15, 2014.55, 22, 2014.65, 9, 2014.85, 17,
  2014.95, 5, 2015.05, 12, 2015.15, 21, 2015.35, 14, 2015.45, 7, 2015.55, 18, 2015.65, 24, 2015.75, 11, 2015.85, 16,
  2015.95, 3];

// ---------------- layout ----------------
const X_MIN = 1984.4;
const X_MAX = 2017.6;
const ROW_TOPS = [7, 74, 141, 209, 276, 343, 411, 478, 545, 612];
const ROW_BOTTOM = 679;
const PAGE_W = 533;
const PAGE_H = 743;
const PAD = 12;
const COLS = [
  { left: 0, width: 280, axisW: 66, padRight: 2 },
  { left: 280, width: 253, axisW: 39, padRight: 1 },
];

type Spec = {
  key: string;
  col: number;
  row: number;
  yMin: number;
  yMax: number;
  yTicks: number[];
  fit: (number | null)[] | null;
  dots: (number | null)[] | null;
  extra: number[];
  label: string | null;
  ytitle: "T" | "F" | "A" | null;
  dotR: number;
};

function pairs(a: (number | null)[]) {
  const out: { x: number; y: number | null }[] = [];
  for (let i = 0; i < a.length; i += 2) out.push({ x: a[i] as number, y: a[i + 1] });
  return out;
}

const LEFT_SETS = [
  [L0_FIT, L0_DOTS, L0_EXTRA], [L1_FIT, L1_DOTS, L1_EXTRA], [L2_FIT, L2_DOTS, L2_EXTRA], [L3_FIT, L3_DOTS, L3_EXTRA],
  [L4_FIT, L4_DOTS, L4_EXTRA], [L5_FIT, L5_DOTS, L5_EXTRA], [L6_FIT, L6_DOTS, L6_EXTRA], [L7_FIT, L7_DOTS, L7_EXTRA],
];
const RIGHT_SETS = [
  [R0_FIT, R0_DOTS, R0_EXTRA], [R1_FIT, R1_DOTS, R1_EXTRA], [R2_FIT, R2_DOTS, R2_EXTRA], [R3_FIT, R3_DOTS, R3_EXTRA],
  [R4_FIT, R4_DOTS, R4_EXTRA], [R5_FIT, R5_DOTS, R5_EXTRA], [R6_FIT, R6_DOTS, R6_EXTRA], [R7_FIT, R7_DOTS, R7_EXTRA],
];

function buildSpecs(): Spec[] {
  const specs: Spec[] = [];
  LEFT_SETS.forEach((s, i) => specs.push({
    key: "L" + i, col: 0, row: i, yMin: 120, yMax: 1500, yTicks: TI_LEFT_TICKS,
    fit: s[0] as any, dots: s[1] as any, extra: s[2] as any, label: LEFT_LABELS[i], ytitle: "T", dotR: 2,
  }));
  RIGHT_SETS.forEach((s, i) => specs.push({
    key: "R" + i, col: 1, row: i, yMin: 697, yMax: 2623, yTicks: TI_RIGHT_TICKS,
    fit: s[0] as any, dots: s[1] as any, extra: s[2] as any, label: RIGHT_LABELS[i], ytitle: null, dotR: 2,
  }));
  [0, 1].forEach((c) => {
    specs.push({ key: "F" + c, col: c, row: 8, yMin: 58.6, yMax: 286, yTicks: F107_TICKS, fit: null, dots: null,
      extra: F107_DATA.concat(F107_MORE), label: null, ytitle: c === 0 ? "F" : null, dotR: 1.6 });
    specs.push({ key: "A" + c, col: c, row: 9, yMin: -3, yMax: 81.5, yTicks: AP_TICKS, fit: null, dots: null,
      extra: AP_DATA.concat(AP_MORE), label: null, ytitle: c === 0 ? "A" : null, dotR: 1.6 });
  });
  return specs;
}

type Part = { t: string; font: string; dy: number };
function drawRotated(ctx: CanvasRenderingContext2D, x: number, y: number, parts: Part[]) {
  ctx.save();
  ctx.translate(x, y);
  ctx.rotate(-Math.PI / 2);
  ctx.textBaseline = "alphabetic";
  ctx.textAlign = "left";
  ctx.fillStyle = "#000";
  let total = 0;
  for (const p of parts) { ctx.font = p.font; total += ctx.measureText(p.t).width; }
  let cx = -total / 2;
  for (const p of parts) { ctx.font = p.font; ctx.fillText(p.t, cx, p.dy); cx += ctx.measureText(p.t).width; }
  ctx.restore();
}

const FONT = "'DejaVu Sans', 'Liberation Sans', sans-serif";

function Panel({ spec }: { spec: Spec }) {
  const ref = useRef<HTMLCanvasElement>(null);
  const col = COLS[spec.col];
  const top = ROW_TOPS[spec.row];
  const bottom = spec.row < 9 ? ROW_TOPS[spec.row + 1] : ROW_BOTTOM;
  const isLast = spec.row === 9;
  const cTop = top - PAD;
  const cH = isLast ? PAGE_H - cTop : bottom - top + 2 * PAD;
  const padBottom = cH - PAD - (bottom - top);

  useEffect(() => {
    const canvas = ref.current!;
    const dotPts: { x: number; y: number | null }[] = [];
    if (spec.dots) spec.dots.forEach((v, i) => { if (v !== null) dotPts.push({ x: EPOCHS[i], y: v }); });
    pairs(spec.extra).forEach((p) => dotPts.push(p));

    const datasets: any[] = [];
    if (spec.fit) {
      datasets.push({
        type: "line", data: pairs(spec.fit), borderColor: "#ff0000", borderWidth: 1.6,
        pointRadius: 0, pointHoverRadius: 0, fill: false, tension: 0, spanGaps: false, order: 0,
      });
    }
    datasets.push({
      type: "scatter", data: dotPts, backgroundColor: "#000", borderColor: "#000", borderWidth: 0,
      pointRadius: spec.dotR, pointHoverRadius: spec.dotR, order: 1,
    });

    const deco = {
      id: "deco" + spec.key,
      afterDraw(chart: any) {
        const ctx: CanvasRenderingContext2D = chart.ctx;
        const a = chart.chartArea;
        const xs = chart.scales.x;
        const ys = chart.scales.y;
        ctx.save();
        ctx.strokeStyle = "#000";
        ctx.lineWidth = 1;
        ctx.beginPath();
        for (const yr of TICK_YEARS) {
          const px = Math.round(xs.getPixelForValue(yr)) + 0.5;
          ctx.moveTo(px, a.bottom + 0.5);
          ctx.lineTo(px, a.bottom - 3.5);
        }
        for (const v of spec.yTicks) {
          const py = Math.round(ys.getPixelForValue(v)) + 0.5;
          ctx.moveTo(a.left, py);
          ctx.lineTo(a.left + 4, py);
        }
        ctx.stroke();
        ctx.strokeRect(a.left + 0.5, a.top + 0.5, a.right - a.left - 1, a.bottom - a.top);

        if (spec.label) {
          ctx.fillStyle = "#0000ff";
          ctx.font = "bold 11px " + FONT;
          ctx.textBaseline = "middle";
          if (spec.col === 0) {
            ctx.textAlign = "left";
            ctx.fillText(spec.label, a.left + 11, a.top + 58.7);
          } else {
            ctx.textAlign = "right";
            ctx.fillText(spec.label, a.right - 3, a.top + 17.7);
          }
        }
        const midY = (a.top + a.bottom) / 2;
        if (spec.ytitle === "T") {
          drawRotated(ctx, 15, midY - 8.5, [
            { t: "T", font: "italic 11px " + FONT, dy: 0 },
            { t: "i", font: "italic 8px " + FONT, dy: 2.5 },
            { t: " (K)", font: "11px " + FONT, dy: 0 },
          ]);
        } else if (spec.ytitle === "F") {
          drawRotated(ctx, 24.5, midY, [
            { t: "F", font: "italic 10.5px " + FONT, dy: 0 },
            { t: "10.7", font: "7.5px " + FONT, dy: 2.5 },
            { t: " (sfu)", font: "10.5px " + FONT, dy: 0 },
          ]);
        } else if (spec.ytitle === "A") {
          drawRotated(ctx, 30, midY, [
            { t: "A", font: "italic 17px " + FONT, dy: 0 },
            { t: "p", font: "italic 12px " + FONT, dy: 4 },
          ]);
        }
        if (isLast) {
          ctx.fillStyle = "#000";
          ctx.font = "13px " + FONT;
          ctx.textAlign = "center";
          ctx.textBaseline = "middle";
          for (const yr of TICK_YEARS) {
            const px = xs.getPixelForValue(yr);
            ctx.save();
            ctx.translate(px, a.bottom + 22);
            ctx.rotate(-Math.PI / 4);
            ctx.fillText(String(yr), 0, 0);
            ctx.restore();
          }
          ctx.font = "16px " + FONT;
          ctx.fillText("year", (a.left + a.right) / 2, a.bottom + 50);
        }
        ctx.restore();
      },
    };

    const chart = new Chart(canvas, {
      type: "scatter",
      data: { datasets },
      options: {
        animation: false,
        responsive: false,
        maintainAspectRatio: false,
        devicePixelRatio: 1,
        events: [],
        layout: { padding: { left: 0, right: col.padRight, top: PAD, bottom: padBottom } },
        plugins: { legend: { display: false }, tooltip: { enabled: false } },
        scales: {
          x: { type: "linear", min: X_MIN, max: X_MAX, display: false },
          y: {
            type: "linear",
            min: spec.yMin,
            max: spec.yMax,
            afterFit: (s: any) => { s.width = col.axisW; },
            afterBuildTicks: (s: any) => { s.ticks = spec.yTicks.map((v) => ({ value: v })); },
            grid: { display: false, drawTicks: false, tickLength: 0 },
            border: { display: false },
            ticks: {
              padding: 4,
              color: "#000",
              font: { family: FONT, size: 13 },
              autoSkip: false,
              callback: (v: any) => String(v),
            },
          },
        },
      } as any,
      plugins: [deco],
    });
    return () => chart.destroy();
  }, []);

  return (
    <canvas
      ref={ref}
      width={col.width}
      height={cH}
      style={{ position: "absolute", left: col.left, top: cTop, width: col.width, height: cH }}
    />
  );
}

export default function App() {
  useEffect(() => {
    document.body.style.margin = "0";
  }, []);
  const specs = buildSpecs();
  return (
    <div style={{ position: "relative", width: PAGE_W, height: PAGE_H, background: "#fff", overflow: "hidden" }}>
      {specs.map((s) => <Panel key={s.key} spec={s} />)}
    </div>
  );
}
